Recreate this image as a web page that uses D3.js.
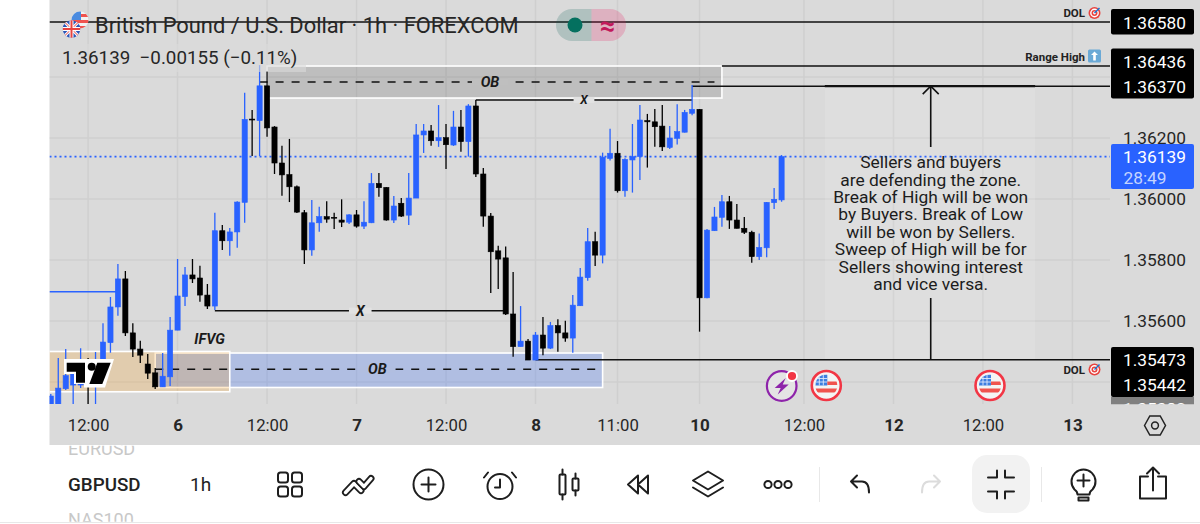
<!DOCTYPE html>
<html>
<head>
<meta charset="utf-8">
<script src="https://cdn.jsdelivr.net/npm/d3@7/dist/d3.min.js"></script>
<style>
  html, body { margin: 0; padding: 0; background: #fff; overflow: hidden; }
  svg { display: block; font-family: Roboto, "Liberation Sans", sans-serif; }
  .axis path, .axis line { display: none; }
</style>
</head>
<body>
<svg id="chart" width="1200" height="524"></svg>
<script>
// GBPUSD hourly candles, oldest first
const opens = [1.35292,1.35308,1.35378,1.35390,1.35390,1.35459,1.35397,1.35459,1.35529,1.35646,1.35738,1.35561,1.35508,1.35459,1.35430,1.35384,1.35417,1.35570,1.35680,1.35751,1.35741,1.35685,1.35649,1.35896,1.35863,1.35892,1.35989,1.36262,1.36257,1.36371,1.36236,1.36118,1.36080,1.36040,1.35955,1.35833,1.35922,1.35942,1.35940,1.35931,1.35924,1.35948,1.35911,1.35922,1.36051,1.36038,1.35931,1.35986,1.35947,1.36003,1.36210,1.36223,1.36191,1.36201,1.36177,1.36236,1.36188,1.36305,1.36082,1.35944,1.35830,1.35807,1.35623,1.35516,1.35534,1.35472,1.35554,1.35511,1.35585,1.35561,1.35544,1.35650,1.35742,1.35860,1.35816,1.36133,1.36150,1.36027,1.36128,1.36139,1.36257,1.36253,1.36239,1.36169,1.36199,1.36219,1.36281,1.36294,1.35676,1.35896,1.35940,1.35991,1.35931,1.35904,1.35891,1.35811,1.35840,1.35988,1.35997];
const highs = [1.35361,1.35479,1.35508,1.35472,1.35511,1.35479,1.35498,1.35593,1.35679,1.35787,1.35764,1.35593,1.35535,1.35492,1.35446,1.35495,1.35613,1.35803,1.35777,1.35803,1.35781,1.35721,1.35955,1.35915,1.35905,1.35993,1.36348,1.36292,1.36439,1.36420,1.36239,1.36175,1.36197,1.36044,1.35964,1.35997,1.35975,1.35993,1.35955,1.35999,1.35950,1.35964,1.35993,1.36085,1.36085,1.36039,1.36010,1.36003,1.36085,1.36246,1.36246,1.36243,1.36308,1.36246,1.36289,1.36292,1.36311,1.36325,1.36102,1.35954,1.35847,1.35844,1.35761,1.35649,1.35541,1.35564,1.35613,1.35597,1.35606,1.35601,1.35685,1.35774,1.35905,1.35893,1.36152,1.36230,1.36190,1.36134,1.36246,1.36308,1.36279,1.36295,1.36308,1.36239,1.36311,1.36292,1.36374,1.36295,1.35902,1.35974,1.36013,1.36010,1.35984,1.35941,1.35896,1.35887,1.35990,1.36036,1.36144];
const lows = [1.35275,1.35292,1.35374,1.35308,1.35380,1.35308,1.35308,1.35446,1.35496,1.35617,1.35551,1.35482,1.35462,1.35410,1.35377,1.35384,1.35387,1.35570,1.35649,1.35725,1.35663,1.35639,1.35636,1.35833,1.35814,1.35840,1.35922,1.36141,1.36141,1.36204,1.36082,1.36011,1.35990,1.35954,1.35787,1.35814,1.35893,1.35922,1.35902,1.35908,1.35918,1.35906,1.35902,1.35921,1.36007,1.35929,1.35921,1.35941,1.35915,1.36003,1.36151,1.36175,1.36171,1.36098,1.36174,1.36155,1.36139,1.36072,1.35909,1.35692,1.35705,1.35620,1.35483,1.35516,1.35472,1.35472,1.35488,1.35508,1.35499,1.35532,1.35496,1.35649,1.35732,1.35780,1.35789,1.36126,1.36021,1.36007,1.36021,1.36062,1.36103,1.36171,1.36157,1.36164,1.36179,1.36218,1.36275,1.35565,1.35675,1.35895,1.35909,1.35902,1.35903,1.35885,1.35791,1.35800,1.35809,1.35967,1.35991];
const closes = [1.35354,1.35380,1.35421,1.35446,1.35466,1.35393,1.35466,1.35531,1.35646,1.35738,1.35561,1.35508,1.35488,1.35429,1.35384,1.35419,1.35570,1.35682,1.35751,1.35738,1.35685,1.35649,1.35896,1.35863,1.35892,1.35990,1.36261,1.36259,1.36371,1.36233,1.36118,1.36079,1.36040,1.35957,1.35833,1.35922,1.35942,1.35934,1.35937,1.35924,1.35948,1.35911,1.35924,1.36051,1.36037,1.35931,1.35977,1.35944,1.36003,1.36210,1.36223,1.36191,1.36201,1.36178,1.36236,1.36188,1.36305,1.36082,1.35944,1.35827,1.35803,1.35623,1.35516,1.35534,1.35472,1.35554,1.35511,1.35585,1.35561,1.35544,1.35652,1.35744,1.35860,1.35816,1.36137,1.36150,1.36027,1.36130,1.36139,1.36259,1.36253,1.36237,1.36171,1.36200,1.36221,1.36284,1.36294,1.35676,1.35898,1.35941,1.35991,1.35931,1.35904,1.35891,1.35811,1.35841,1.35989,1.35999,1.36139];

// Price and time scale
const priceTicks = [1.362, 1.360, 1.358, 1.356];
const priceGrid = [1.364, 1.362, 1.360, 1.358, 1.356, 1.354];
const timeTickBars = [5, 17, 29, 41, 53, 65, 76, 87, 101, 113, 125, 137];
const timeTickLabels = ["12:00", "6", "12:00", "7", "12:00", "8", "11:00", "10", "12:00", "12", "12:00", "13"];

// Horizontal levels drawn on the chart
const levelDolHigh = 1.36580, levelRangeHigh = 1.36436, levelRetest = 1.36370;
const levelDolLow = 1.35473, levelLast = 1.36139, levelObLow = 1.35442;
const levelSwingBlue = 1.35696, levelXLow = 1.35634, levelXHigh = 1.36325;
const upperOb = { from: 29, to: 90, top: 1.36436, bottom: 1.36331, mid: 1.36384 };
const lowerOb = { from: 14, to: 74, top: 1.35495, bottom: 1.35382 };
const ifvgZone = { from: -0.25, to: 24, top: 1.35500, bottom: 1.35368 };
const noteZone = { from: 103.8, to: 132, top: 1.36370, bottom: 1.35473, arrowBar: 118 };
const noteLines = ["Sellers and buyers", "are defending the zone.", "Break of High will be won",
  "by Buyers. Break of Low", "will be won by Sellers.", "Sweep of High will be for",
  "Sellers showing interest", "and vice versa."];

const tags = [
  { y0: 9, y1: 34.5, fill: "#000", rows: [{ t: "1.36580", y: 22.5 }] },
  { y0: 48.5, y1: 98.5, fill: "#000", rows: [{ t: "1.36436", y: 62 }, { t: "1.36370", y: 86.5 }] },
  { y0: 144, y1: 189, fill: "#2962ff", rows: [{ t: "1.36139", y: 157 }, { t: "28:49", y: 178, c: "#c4d4ff" }] },
  { y0: 347, y1: 397, fill: "#000", rows: [{ t: "1.35473", y: 360 }, { t: "1.35442", y: 385 }] }
];

const BLUE = "#2962ff", INK = "#262626", BG = "#dadada";
const paneLeft = 49.5, paneRight = 1110, paneBottom = 404, axisBottom = 445;

const x = d3.scaleLinear().domain([0, 137]).range([50.8, 1072.4]);
const y = d3.scaleLinear().domain([1.362, 1.356]).range([138, 321]);
const svg = d3.select("#chart");

svg.append("rect").attr("width", 1200).attr("height", 524).attr("fill", "#fff");
svg.append("rect").attr("x", paneLeft).attr("width", 1200 - paneLeft).attr("height", axisBottom).attr("fill", BG);
svg.append("clipPath").attr("id", "pane").append("rect")
  .attr("x", paneLeft).attr("y", 0).attr("width", paneRight - paneLeft).attr("height", paneBottom);

const pane = svg.append("g").attr("clip-path", "url(#pane)");

// Grid
pane.selectAll(".gh").data(priceGrid).join("line").attr("class", "gh")
  .attr("x1", paneLeft).attr("x2", paneRight).attr("y1", d => y(d)).attr("y2", d => y(d))
  .attr("stroke", "#cfcfcf").attr("stroke-width", 1.5);
pane.selectAll(".gv").data(timeTickBars).join("line").attr("class", "gv")
  .attr("x1", d => x(d)).attr("x2", d => x(d)).attr("y1", 0).attr("y2", paneBottom)
  .attr("stroke", "#cfcfcf").attr("stroke-width", 1.5);

// Zones
function zone(z, fill, stroke) {
  pane.append("rect")
    .attr("x", x(z.from)).attr("width", x(z.to) - x(z.from))
    .attr("y", y(z.top)).attr("height", y(z.bottom) - y(z.top))
    .attr("fill", fill).attr("stroke", stroke).attr("stroke-width", 1.6);
}
zone(lowerOb, "rgba(41,98,255,0.23)", "#fff");
zone(ifvgZone, "rgba(255,152,0,0.2)", "#fff");
zone(upperOb, "rgba(0,0,0,0.125)", "#fff");
pane.append("rect").attr("x", x(noteZone.from)).attr("width", x(noteZone.to) - x(noteZone.from))
  .attr("y", y(noteZone.top)).attr("height", y(noteZone.bottom) - y(noteZone.top))
  .attr("fill", "rgba(255,255,255,0.12)");

// Level lines
function hline(price, x0, x1, color, width, dash) {
  pane.append("line").attr("x1", x0).attr("x2", x1).attr("y1", y(price)).attr("y2", y(price))
    .attr("stroke", color).attr("stroke-width", width).attr("stroke-dasharray", dash || null);
}
hline(levelLast, paneLeft, paneRight, BLUE, 1.6, "2 3");
hline(levelDolHigh, paneLeft, paneRight, "#111", 1.5);
hline(levelRangeHigh, x(upperOb.to), paneRight, "#111", 1.5);
hline(levelRetest, x(86), paneRight, "#111", 1.5);
hline(levelRetest, x(noteZone.from), x(noteZone.to), "#111", 2.2);
hline(levelDolLow, x(65), paneRight, "#111", 1.6);
hline(levelSwingBlue, paneLeft, x(9), BLUE, 1.5);
hline(levelXLow, x(22), x(61), "#111", 1.5);
hline(levelXHigh, x(57), x(86), "#111", 1.5);
hline(upperOb.mid, x(28), x(89), "#111", 1.5, "8 8");
hline(levelObLow, x(14), x(73.5), "#111", 1.5, "8 8");

// Arrow from the note up to the retest level, and the stem down to the low
const ax = x(noteZone.arrowBar);
pane.append("line").attr("x1", ax).attr("x2", ax).attr("y1", y(levelRetest)).attr("y2", 147)
  .attr("stroke", "#111").attr("stroke-width", 1.6);
pane.append("line").attr("x1", ax).attr("x2", ax).attr("y1", 298).attr("y2", y(levelDolLow))
  .attr("stroke", "#111").attr("stroke-width", 1.6);
pane.append("path").attr("d", `M${ax - 8},${y(levelRetest) + 8}L${ax},${y(levelRetest)}L${ax + 8},${y(levelRetest) + 8}`)
  .attr("fill", "none").attr("stroke", "#111").attr("stroke-width", 1.6);

// Candles
const bars = opens.map((o, i) => ({ i, o, h: highs[i], l: lows[i], c: closes[i] }));
const candles = pane.append("g").selectAll("g").data(bars).join("g")
  .attr("fill", d => d.c >= d.o ? BLUE : "#000")
  .attr("stroke", d => d.c >= d.o ? BLUE : "#000");
candles.append("line")
  .attr("x1", d => x(d.i)).attr("x2", d => x(d.i))
  .attr("y1", d => y(d.h)).attr("y2", d => y(d.l)).attr("stroke-width", 1.3);
candles.append("rect")
  .attr("x", d => x(d.i) - 2.6).attr("width", 5.2)
  .attr("y", d => y(Math.max(d.o, d.c)))
  .attr("height", d => Math.max(0.8, Math.abs(y(d.o) - y(d.c))))
  .attr("stroke-width", 0.6);

// Labels on drawings; the gap behind each label takes the colour around it
function chartLabel(bar, price, text, size, gap) {
  const g = pane.append("g").attr("transform", `translate(${x(bar)},${y(price)})`);
  g.append("rect").attr("x", -text.length * size * 0.45 - 5).attr("width", text.length * size * 0.9 + 10)
    .attr("y", -3).attr("height", 6).attr("fill", gap);
  g.append("text").attr("text-anchor", "middle").attr("dy", "0.36em")
    .attr("font-size", size).attr("font-weight", 700).attr("font-style", "italic")
    .attr("fill", "#1a1a1a").text(text);
}
chartLabel(58.9, upperOb.mid, "OB", 14.5, "#bfbfbf");
chartLabel(43.8, levelObLow, "OB", 14.5, "#b1bee0");
chartLabel(41.5, levelXLow, "X", 14, "#e2e2e2");
chartLabel(71.5, levelXHigh, "X", 12, "#e2e2e2");
pane.append("text").attr("x", x(21.3)).attr("y", 344).attr("text-anchor", "middle")
  .attr("font-size", 14.5).attr("font-weight", 700).attr("font-style", "italic").attr("fill", "#1a1a1a").text("IFVG");

// Note text
pane.append("g").selectAll("text").data(noteLines).join("text")
  .attr("x", ax).attr("y", (d, i) => 161.8 + i * 17.45).attr("dy", "0.36em")
  .attr("text-anchor", "middle").attr("font-size", 17.4).attr("fill", "#1c1c1c").text(d => d);

// Small labels next to the right edge
function smallLabel(text, ly) {
  pane.append("text").attr("x", 1085).attr("y", ly).attr("dy", "0.36em").attr("text-anchor", "end")
    .attr("font-size", 11.5).attr("font-weight", 700).attr("fill", "#222").text(text);
}
smallLabel("DOL", 13);
smallLabel("Range High", 56.5);
smallLabel("DOL", 369.5);
function target(cx, cy) {
  const g = pane.append("g").attr("transform", `translate(${cx},${cy})`);
  [[6, "#e8433f"], [4.4, "#fff"], [3, "#e8433f"], [1.4, "#fff"]].forEach(([r, f]) =>
    g.append("circle").attr("r", r).attr("fill", f));
  g.append("path").attr("d", "M0,0L5,-5").attr("stroke", "#1976d2").attr("stroke-width", 1.4);
}
target(1094.5, 13);
target(1094.5, 369.5);
const up = pane.append("g").attr("transform", "translate(1094.5,56)");
up.append("rect").attr("x", -6.5).attr("y", -6.5).attr("width", 13).attr("height", 13).attr("rx", 1.5).attr("fill", "#6aa9d6");
up.append("path").attr("d", "M0,-4.5L3.5,-1H1.3V4.5H-1.3V-1H-3.5Z").attr("fill", "#fff");

// TradingView mark
const mark = pane.append("g");
mark.append("path").attr("d", "M64,359L114,359L105,387.5L84,387.5L84,384L74,384L74,374L64,374Z").attr("fill", "#fff");
mark.append("path").attr("d", "M66.7,362.7H85V382.7H76V371.7H66.7Z").attr("fill", "#000");
mark.append("circle").attr("cx", 91.7).attr("cy", 366.7).attr("r", 4).attr("fill", "#000");
mark.append("path").attr("d", "M97.3,362.7H110.7L102.3,384H89.3Z").attr("fill", "#000");

// Event markers on the pane
function usMarker(g) {
  g.append("circle").attr("r", 14.5).attr("fill", "#f4f4f4").attr("stroke", "#f23645").attr("stroke-width", 2.6);
  g.append("clipPath").attr("id", "f" + g.attr("data-k")).append("circle").attr("r", 11);
  const f = g.append("g").attr("clip-path", `url(#f${g.attr("data-k")})`);
  f.append("rect").attr("x", -11).attr("y", -11).attr("width", 12).attr("height", 11).attr("fill", "#3d7ee0");
  f.append("path").attr("d", "M-7,-11V0M-3,-11V0M-11,-7H1M-11,-3.5H1").attr("stroke", "#dfe9fb").attr("stroke-width", 0.9);
  f.append("rect").attr("x", 1).attr("y", -4).attr("width", 11).attr("height", 3.5).attr("fill", "#f0534e");
  f.append("rect").attr("x", -11).attr("y", 3).attr("width", 22).attr("height", 4).attr("fill", "#f0534e");
}
usMarker(pane.append("g").attr("data-k", "a").attr("transform", "translate(826.3,385.5)"));
usMarker(pane.append("g").attr("data-k", "b").attr("transform", "translate(990,385.5)"));
const bolt = pane.append("g").attr("transform", "translate(781.7,386)");
bolt.append("circle").attr("r", 14.8).attr("fill", "#e4e4e4").attr("stroke", "#8e24aa").attr("stroke-width", 2.2);
bolt.append("path").attr("d", "M4,-8L-7,2H-1L-4,8.5L7,-1.5H1Z").attr("fill", "#8e24aa");
bolt.append("circle").attr("cx", 10.3).attr("cy", -10).attr("r", 5).attr("fill", "#f23645").attr("stroke", "#fff").attr("stroke-width", 1.8);

// Legend: soft backdrop, title and last price
svg.append("rect").attr("x", 59).attr("y", 44).attr("width", 247).attr("height", 28)
  .attr("fill", BG).attr("opacity", 0.62);
svg.append("text").attr("x", 95).attr("y", 33).attr("font-size", 21.9).attr("fill", INK)
  .text("British Pound / U.S. Dollar · 1h · FOREXCOM");
svg.append("text").attr("x", 62).attr("y", 64).attr("font-size", 18.8).attr("fill", INK)
  .attr("xml:space", "preserve").text("1.36139  −0.00155 (−0.11%)");

// Symbol flags
const us = svg.append("g").attr("transform", "translate(80,20)");
us.append("clipPath").attr("id", "usc").append("circle").attr("r", 8.5);
const usG = us.append("g").attr("clip-path", "url(#usc)");
usG.append("rect").attr("x", -9).attr("y", -9).attr("width", 18).attr("height", 18).attr("fill", "#f2f2f2");
usG.append("rect").attr("x", -9).attr("y", -9).attr("width", 10).attr("height", 9).attr("fill", "#4a8be0");
usG.append("rect").attr("x", 1).attr("y", -6).attr("width", 8).attr("height", 3).attr("fill", "#f0534e");
usG.append("rect").attr("x", -9).attr("y", 0).attr("width", 18).attr("height", 3).attr("fill", "#f0534e");
usG.append("rect").attr("x", -9).attr("y", 6).attr("width", 18).attr("height", 3).attr("fill", "#f0534e");
const uk = svg.append("g").attr("transform", "translate(71.5,29)");
uk.append("clipPath").attr("id", "ukc").append("circle").attr("r", 8.8);
const ukG = uk.append("g").attr("clip-path", "url(#ukc)");
ukG.append("rect").attr("x", -9).attr("y", -9).attr("width", 18).attr("height", 18).attr("fill", "#2a55b8");
ukG.append("path").attr("d", "M-9,-9L9,9M9,-9L-9,9").attr("stroke", "#fff").attr("stroke-width", 3);
ukG.append("path").attr("d", "M-9,-9L9,9M9,-9L-9,9").attr("stroke", "#e8433f").attr("stroke-width", 1);
ukG.append("path").attr("d", "M0,-9V9M-9,0H9").attr("stroke", "#fff").attr("stroke-width", 4);
ukG.append("path").attr("d", "M0,-9V9M-9,0H9").attr("stroke", "#e8433f").attr("stroke-width", 2);

// Market status pill
svg.append("path").attr("d", "M591.5,9H572a16,16 0 0 0 0,32H591.5Z").attr("fill", "#085f55").attr("opacity", 0.2);
svg.append("path").attr("d", "M591.5,9H610a16,16 0 0 1 0,32H591.5Z").attr("fill", "#e91e63").attr("opacity", 0.22);
svg.append("circle").attr("cx", 575).attr("cy", 25).attr("r", 7.5).attr("fill", "#04705f");
svg.append("text").attr("x", 607.5).attr("y", 25).attr("dy", "0.36em").attr("text-anchor", "middle")
  .attr("font-size", 27).attr("font-weight", 700).attr("fill", "#c2185b").text("≈");

// Price axis
const priceAxis = d3.axisRight(y).tickValues(priceTicks).tickFormat(d3.format(".5f")).tickSize(0).tickPadding(0);
const pa = svg.append("g").attr("class", "axis").attr("transform", "translate(1154.5,0)").call(priceAxis);
pa.selectAll("text").attr("text-anchor", "middle").attr("font-size", 17.3).attr("fill", INK)
  .attr("font-family", "Roboto");

// Price tags; a further tag sits mostly hidden under the lowest one
svg.append("clipPath").attr("id", "peek").append("rect").attr("x", 1111).attr("y", 397).attr("width", 83).attr("height", 7.5);
const peek = svg.append("g").attr("clip-path", "url(#peek)");
peek.append("rect").attr("x", 1111).attr("y", 397).attr("width", 83).attr("height", 7.5).attr("fill", "#808080");
peek.append("text").attr("x", 1154.5).attr("y", 409).attr("dy", "0.36em").attr("text-anchor", "middle")
  .attr("font-size", 17.3).attr("fill", "#fff").text(lowerOb.bottom.toFixed(5));
const tag = svg.selectAll(".tag").data(tags).join("g").attr("class", "tag");
tag.append("rect").attr("x", 1111).attr("y", d => d.y0).attr("width", 83)
  .attr("height", d => d.y1 - d.y0).attr("rx", 2).attr("fill", d => d.fill);
tag.selectAll("text").data(d => d.rows).join("text")
  .attr("x", r => r.c ? 1123.5 : 1154.5).attr("y", r => r.y).attr("dy", "0.36em")
  .attr("text-anchor", r => r.c ? "start" : "middle")
  .attr("font-size", 17.3).attr("fill", r => r.c || "#fff").text(r => r.t);

// Time axis
const timeAxis = d3.axisBottom(x).tickValues(timeTickBars)
  .tickFormat(d => timeTickLabels[timeTickBars.indexOf(d)]).tickSize(0).tickPadding(0);
const ta = svg.append("g").attr("class", "axis").attr("transform", "translate(0,425)").call(timeAxis);
ta.selectAll("text").attr("dy", "0.36em").attr("y", 0).attr("font-family", "Roboto")
  .attr("fill", INK).attr("font-size", 16.7)
  .filter(d => !timeTickLabels[timeTickBars.indexOf(d)].includes(":"))
  .attr("font-size", 17).attr("font-weight", 700);
svg.append("path").attr("transform", "translate(1155,425.5)")
  .attr("d", "M-10.5,0L-5.2,-9.5H5.2L10.5,0L5.2,9.5H-5.2Z").attr("fill", "none").attr("stroke", "#222").attr("stroke-width", 1.5);
svg.append("circle").attr("cx", 1155).attr("cy", 425.5).attr("r", 3.4).attr("fill", "none").attr("stroke", "#222").attr("stroke-width", 1.5);

// Toolbar below the chart
const toolbar = svg.append("g");
toolbar.append("clipPath").attr("id", "bar").append("rect").attr("y", 445.8).attr("width", 1200).attr("height", 76);
const tb = toolbar.append("g").attr("clip-path", "url(#bar)");
[["EURUSD", 449, "#c8c8c8", 400], ["GBPUSD", 484.5, "#222", 500], ["NAS100", 520, "#c8c8c8", 400]].forEach(([t, ty, c, w]) =>
  tb.append("text").attr("x", 68).attr("y", ty).attr("dy", "0.36em").attr("font-size", w === 500 ? 18.8 : 18)
    .attr("font-weight", w).attr("fill", c).text(t));
tb.append("text").attr("x", 190).attr("y", 484.5).attr("dy", "0.36em").attr("font-size", 19).attr("fill", "#222").text("1h");
svg.append("line").attr("x1", 0).attr("x2", 1200).attr("y1", 522.5).attr("y2", 522.5).attr("stroke", "#e8e8e8").attr("stroke-width", 1.2);

const icon = (cx, color) => toolbar.append("g").attr("transform", `translate(${cx},484.5)`)
  .attr("fill", "none").attr("stroke", color || "#1e1e1e").attr("stroke-width", 2)
  .attr("stroke-linecap", "round").attr("stroke-linejoin", "round");

const gridIcon = icon(290);
[[-12, -12], [2, -12], [-12, 2], [2, 2]].forEach(([a, b]) =>
  gridIcon.append("rect").attr("x", a).attr("y", b).attr("width", 10).attr("height", 10).attr("rx", 2.5));
// Two outlined chevrons: a dark thick stroke with a white core
const trend = icon(358);
[["M-12.5,8L-4,-1L3,6", "M1,-3L6,2L13,-6"]].flat().forEach(d => {
  trend.append("path").attr("d", d).attr("stroke-width", 7);
  trend.append("path").attr("d", d).attr("stroke", "#fff").attr("stroke-width", 3.4);
});
const plus = icon(428.5); plus.append("circle").attr("r", 15); plus.append("path").attr("d", "M-7,0H7M0,-7V7");
const alarm = icon(500); alarm.append("circle").attr("cy", 2).attr("r", 12.5);
alarm.append("path").attr("d", "M0,-5V3H-5M-12,-12L-16,-7M12,-12L16,-7");
const cd = icon(569.5);
cd.append("rect").attr("x", -10).attr("y", -10).attr("width", 6).attr("height", 20).attr("rx", 1);
cd.append("path").attr("d", "M-7,-15V-10M-7,10V15M6,-11V-6M6,6V11");
cd.append("rect").attr("x", 3).attr("y", -6).attr("width", 6).attr("height", 12).attr("rx", 1);
icon(638).append("path").attr("d", "M0,-9L-10,0L0,9ZM10,-9L0,0L10,9Z");
const layers = icon(708);
layers.append("path").attr("d", "M0,-13L15,-4L0,5L-15,-4Z");
layers.append("path").attr("d", "M-15,3L0,12L15,3");
const dots = icon(778);
[-10, 0, 10].forEach(a => dots.append("circle").attr("cx", a).attr("r", 3.6));
svg.append("line").attr("x1", 819.5).attr("x2", 819.5).attr("y1", 467).attr("y2", 502).attr("stroke", "#e8e8e8");
svg.append("line").attr("x1", 1041.5).attr("x2", 1041.5).attr("y1", 467).attr("y2", 502).attr("stroke", "#e8e8e8");
icon(860).append("path").attr("d", "M-3,-9L-9,-3L-3,3M-9,-3H2Q9,-3 9,8");
icon(931, "#dcdcdc").append("path").attr("d", "M3,-9L9,-3L3,3M9,-3H-2Q-9,-3 -9,8");
toolbar.append("rect").attr("x", 972).attr("y", 455).attr("width", 58).attr("height", 58).attr("rx", 15).attr("fill", "#f2f2f2");
icon(1001).append("path").attr("d", "M-4,-14V-7H-13M4,-14V-7H13M-4,14V7H-13M4,14V7H13");
const bulb = icon(1083.5);
bulb.append("path").attr("d", "M-5,10H-6Q-6,7 -9,5A12,12 0 1 1 9,5Q6,7 6,10H5Z");
bulb.append("path").attr("d", "M-6,-4H6M0,-10V2M-5,13H5V16H-5Z");
icon(1153).append("path").attr("d", "M-5,-8H-13V14H13V-8H5M0,6V-16M-6,-11L0,-17L6,-11");
</script>
</body>
</html>
